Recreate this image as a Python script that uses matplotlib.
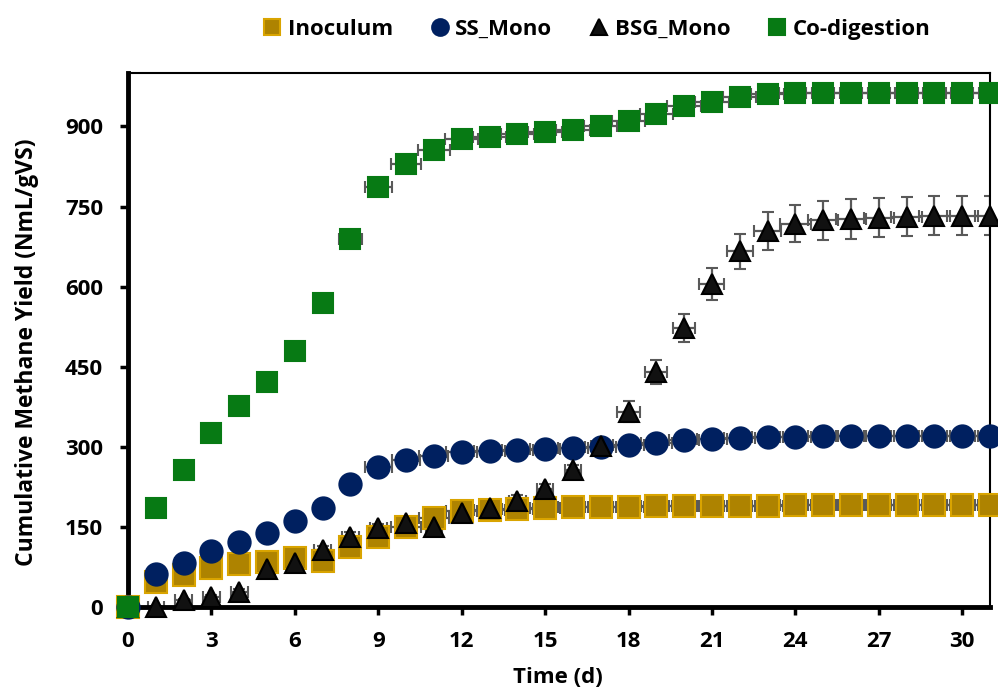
import numpy as np
import matplotlib
matplotlib.use("Agg")
import matplotlib.pyplot as plt

plt.rcParams['font.family'] = ['Open Sans', 'DejaVu Sans']
plt.rcParams['font.weight'] = 'bold'

days = [0, 1, 2, 3, 4, 5, 6, 7, 8, 9, 10, 11, 12, 13, 14, 15,
        16, 17, 18, 19, 20, 21, 22, 23, 24, 25, 26, 27, 28, 29, 30, 31]

# cumulative methane yield (NmL/gVS)
inoculum = [0, 47, 60, 74, 80, 85, 91, 86, 113, 132, 149, 167, 180, 182, 183, 185,
            187, 188, 188, 189, 189, 190, 190, 190, 191, 191, 191, 191, 191, 191, 191, 191]
ss_mono = [0, 61, 82, 105, 121, 138, 162, 186, 231, 263, 276, 282, 291, 293, 294, 296,
           298, 299, 304, 308, 312, 315, 317, 319, 319, 320, 320, 320, 320, 320, 320, 320]
bsg_mono = [0, 0, 13, 19, 29, 71, 83, 106, 132, 148, 157, 149, 176, 185, 199, 221,
            256, 302, 366, 440, 523, 604, 666, 704, 718, 724, 727, 729, 731, 733, 733, 733]
co_digestion = [0, 186, 257, 326, 377, 422, 480, 569, 689, 786, 830, 856, 877, 880, 885, 890,
                893, 900, 910, 924, 938, 946, 956, 960, 963, 963, 963, 963, 963, 963, 963, 963]

# y error (standard deviation)
inoculum_yerr = [0, 3, 3, 3, 3, 3, 3, 3, 3, 3, 3, 3, 3, 3, 3, 3,
                 3, 3, 3, 3, 3, 3, 3, 3, 3, 3, 3, 3, 3, 3, 3, 3]
ss_yerr = [0, 3, 3, 3, 3, 4, 4, 4, 5, 6, 5, 5, 4, 4, 4, 4,
           4, 4, 4, 4, 4, 4, 4, 4, 4, 4, 4, 4, 4, 4, 4, 4]
bsg_yerr = [0, 2, 2, 3, 4, 5, 5, 8, 8, 8, 8, 6, 8, 8, 10, 10,
            10, 8, 19, 22, 26, 30, 33, 36, 35, 36, 37, 37, 37, 37, 37, 37]
co_yerr = [0, 3, 3, 3, 3, 3, 3, 5, 8, 8, 6, 6, 5, 4, 4, 5,
           5, 8, 10, 10, 8, 5, 5, 4, 4, 4, 4, 4, 4, 4, 4, 4]

# x error (days)
inoculum_xerr = [0.3, 0.3, 0.3, 0.3, 0.3, 0.3, 0.3, 0.3, 0.3, 0.3, 0.55, 0.55, 0.55, 0.55, 0.55, 0.55,
                 0.55, 0.55, 0.55, 0.55, 0.55, 0.55, 0.55, 0.55, 0.55, 0.55, 0.55, 0.55, 0.55, 0.55, 0.55, 0.55]
ss_xerr = [0.3, 0.3, 0.3, 0.3, 0.3, 0.3, 0.3, 0.3, 0.3, 0.48, 0.5, 0.52, 0.55, 0.55, 0.55, 0.55,
           0.55, 0.55, 0.55, 0.55, 0.55, 0.55, 0.55, 0.55, 0.55, 0.55, 0.55, 0.55, 0.55, 0.55, 0.55, 0.55]
bsg_xerr = [0.3, 0.3, 0.3, 0.3, 0.3, 0.3, 0.3, 0.3, 0.3, 0.3, 0.3, 0.3, 0.3, 0.3, 0.3, 0.3,
            0.3, 0.35, 0.4, 0.4, 0.4, 0.45, 0.46, 0.5, 0.55, 0.55, 0.55, 0.55, 0.55, 0.55, 0.55, 0.55]
co_xerr = [0.3, 0.3, 0.3, 0.3, 0.3, 0.3, 0.3, 0.3, 0.42, 0.48, 0.53, 0.58, 0.6, 0.6, 0.6, 0.6,
           0.6, 0.6, 0.6, 0.6, 0.6, 0.6, 0.6, 0.6, 0.6, 0.6, 0.6, 0.6, 0.6, 0.6, 0.6, 0.6]

fig = plt.figure(figsize=(9.98, 6.92), dpi=100)
ax = fig.add_axes([0.1283, 0.1228, 0.8637, 0.7717])

err_style = dict(ecolor='#595959', elinewidth=1.6, capsize=4, capthick=1.6, linestyle='none')

series = [
    (inoculum, inoculum_yerr, inoculum_xerr, 's', 15.5, '#AE8300', '#D9A400', 'Inoculum'),
    (ss_mono, ss_yerr, ss_xerr, 'o', 16, '#002060', '#002060', 'SS_Mono'),
    (bsg_mono, bsg_yerr, bsg_xerr, '^', 15, '#111111', '#000000', 'BSG_Mono'),
    (co_digestion, co_yerr, co_xerr, 's', 14.5, '#077A14', '#077A14', 'Co-digestion'),
]
handles = []
for i, (y, ye, xe, mk, ms, fc, ec, lab) in enumerate(series):
    cont = ax.errorbar(days, y, yerr=ye, xerr=xe, marker=mk, ms=ms, mfc=fc, mec=ec,
                       mew=1.5, label=lab, **err_style)
    cont[0].set_clip_on(False)
    cont[0].set_zorder(3 + i * 0.1)
    handles.append(cont[0])

ax.set_xlim(0, 31)
ax.set_ylim(0, 1000)
ax.set_xticks(np.arange(0, 31, 3))
ax.set_yticks(np.arange(0, 901, 150))

for side in ['left', 'bottom']:
    ax.spines[side].set_linewidth(3.5)
for side in ['top', 'right']:
    ax.spines[side].set_linewidth(1.5)
ax.tick_params(axis='both', direction='out', length=6, width=2.5, labelsize=16)
ax.tick_params(axis='x', pad=11)
ax.tick_params(axis='y', pad=12)
for lbl in ax.get_xticklabels() + ax.get_yticklabels():
    lbl.set_fontweight('bold')

ax.set_xlabel('Time (d)', fontsize=16, fontweight='bold')
ax.set_ylabel('Cumulative Methane Yield (NmL/gVS)', fontsize=16.5, fontweight='bold')
ax.xaxis.set_label_coords(0.499, -0.112)
ax.yaxis.label.set_va('center')
ax.yaxis.set_label_coords(-0.117, 0.4775)

labels = [s[-1] for s in series]
fig.legend(handles, labels, loc='center', bbox_to_anchor=(0.598, 0.958), ncol=4, frameon=False,
           markerscale=0.75, handlelength=0.8, handletextpad=0.3, columnspacing=1.7,
           prop={'weight': 'bold', 'size': 16})

fig.savefig('out.png', dpi=100)
